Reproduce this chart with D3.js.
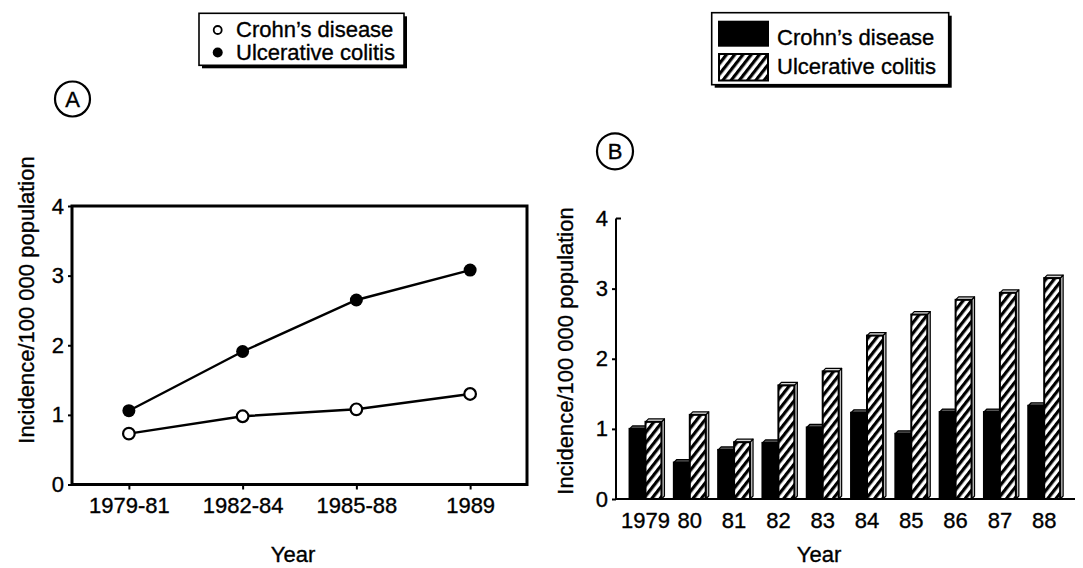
<!DOCTYPE html>
<html><head><meta charset="utf-8">
<script src="https://cdn.jsdelivr.net/npm/d3@7"></script>
<style>
body{margin:0;background:#fff}
svg{display:block}
text{font-family:"Liberation Sans",Arial,Helvetica,sans-serif;fill:#000;stroke:#000;stroke-width:0.35px}
</style>
</head><body>
<svg id="c" width="1083" height="568"></svg>
<script>
// ---- data ----
const periodsA = ["1979-81", "1982-84", "1985-88", "1989"];
const crohnA = [0.73, 0.98, 1.08, 1.30];
const ucA = [1.06, 1.91, 2.65, 3.08];
const yearsB = ["1979", "80", "81", "82", "83", "84", "85", "86", "87", "88"];
const crohnB = [1.0, 0.52, 0.7, 0.8, 1.02, 1.23, 0.93, 1.24, 1.24, 1.33];
const ucB = [1.1, 1.2, 0.81, 1.62, 1.82, 2.33, 2.63, 2.84, 2.94, 3.15];
const yTicks = [0, 1, 2, 3, 4];
const seriesNames = ["Crohn\u2019s disease", "Ulcerative colitis"];
const yTitle = "Incidence/100 000 population";
const xTitle = "Year";

const svg = d3.select("#c");
const FS = 22;

// hatch pattern
const defs = svg.append("defs");
const pat = defs.append("pattern").attr("id", "hatch")
  .attr("patternUnits", "userSpaceOnUse").attr("width", 6.5).attr("height", 10)
  .attr("patternTransform", "rotate(38)");
pat.append("rect").attr("width", 6.5).attr("height", 10).attr("fill", "#fff");
pat.append("rect").attr("x", 0).attr("width", 3.2).attr("height", 10).attr("fill", "#000");

// ================= Panel A =================
const xA = d3.scalePoint().domain(periodsA).range([72, 527]).padding(0.5);
const yA = d3.scaleLinear().domain([0, 4]).range([484.5, 206]);
const gA = svg.append("g");

const axA = gA.append("g").attr("transform", "translate(72,0)")
  .call(d3.axisLeft(yA).tickValues(yTicks).tickFormat(d3.format("d")).tickSize(4).tickPadding(4));
axA.select(".domain").remove();
axA.selectAll("line").attr("stroke", "#000").attr("stroke-width", 2);
axA.selectAll("text").attr("font-size", FS).attr("font-family", null);

const axAx = gA.append("g").attr("transform", "translate(0,484.5)")
  .call(d3.axisBottom(xA).tickSize(5).tickPadding(8));
axAx.select(".domain").remove();
axAx.selectAll("line").attr("stroke", "#000").attr("stroke-width", 2);
axAx.selectAll("text").attr("font-size", FS).attr("font-family", null);

gA.append("rect").attr("x", 72).attr("y", 206).attr("width", 455).attr("height", 278.5)
  .attr("fill", "none").attr("stroke", "#000").attr("stroke-width", 3);

const lineA = d3.line().x((d, i) => xA(periodsA[i])).y(d => yA(d));
gA.append("path").datum(ucA).attr("d", lineA).attr("fill", "none").attr("stroke", "#000").attr("stroke-width", 2.4);
gA.append("path").datum(crohnA).attr("d", lineA).attr("fill", "none").attr("stroke", "#000").attr("stroke-width", 2.4);
gA.selectAll("circle.uc").data(ucA).join("circle").attr("class", "uc")
  .attr("cx", (d, i) => xA(periodsA[i])).attr("cy", d => yA(d)).attr("r", 6.5).attr("fill", "#000");
gA.selectAll("circle.cd").data(crohnA).join("circle").attr("class", "cd")
  .attr("cx", (d, i) => xA(periodsA[i])).attr("cy", d => yA(d)).attr("r", 5.8)
  .attr("fill", "#fff").attr("stroke", "#000").attr("stroke-width", 2.2);

gA.append("text").attr("transform", "translate(34,300) rotate(-90)")
  .attr("text-anchor", "middle").attr("font-size", FS).text(yTitle);
gA.append("text").attr("x", 293).attr("y", 562).attr("text-anchor", "middle").attr("font-size", FS).text(xTitle);

gA.append("circle").attr("cx", 72.5).attr("cy", 99).attr("r", 17.5).attr("fill", "none").attr("stroke", "#000").attr("stroke-width", 2.2);
gA.append("text").attr("x", 72.5).attr("y", 107).attr("text-anchor", "middle").attr("font-size", FS).text("A");

// legend A
gA.append("rect").attr("x", 202).attr("y", 16.3).attr("width", 205).attr("height", 52).attr("fill", "#000");
gA.append("rect").attr("x", 199).attr("y", 13.3).attr("width", 205).attr("height", 52)
  .attr("fill", "#fff").attr("stroke", "#000").attr("stroke-width", 1.6);
gA.append("circle").attr("cx", 217.7).attr("cy", 30).attr("r", 4).attr("fill", "#fff").attr("stroke", "#000").attr("stroke-width", 1.8);
gA.append("circle").attr("cx", 217.7).attr("cy", 52.5).attr("r", 5).attr("fill", "#000");
gA.append("text").attr("x", 236).attr("y", 37).attr("font-size", FS).text(seriesNames[0]);
gA.append("text").attr("x", 236).attr("y", 59.5).attr("font-size", FS).text(seriesNames[1]);

// ================= Panel B =================
const xB = d3.scaleBand().domain(yearsB).range([623.35, 1066.35]).paddingInner(0.28).paddingOuter(0.14);
const yB = d3.scaleLinear().domain([0, 4]).range([499, 218.5]);
const gB = svg.append("g");
const bw = xB.bandwidth() / 2;
const dep = 3;

const axB = gB.append("g").attr("transform", "translate(616,0)")
  .call(d3.axisLeft(yB).tickValues(yTicks).tickFormat(d3.format("d")).tickSize(4).tickPadding(4));
axB.select(".domain").remove();
axB.selectAll("line").attr("stroke", "#000").attr("stroke-width", 2);
axB.selectAll("text").attr("font-size", FS).attr("font-family", null);
gB.append("line").attr("x1", 616).attr("x2", 621).attr("y1", yB(4)).attr("y2", yB(4)).attr("stroke", "#000").attr("stroke-width", 2);
axB.selectAll(".tick").filter(d => d === 4).select("line").remove();

const axBx = gB.append("g").attr("transform", "translate(0,499)")
  .call(d3.axisBottom(xB).tickSize(0).tickPadding(13));
axBx.select(".domain").remove();
axBx.selectAll("text").attr("font-size", FS).attr("font-family", null);

const series = [
  { vals: crohnB, fill: "#000", top: "#555", side: "#111", off: 0 },
  { vals: ucB, fill: "url(#hatch)", top: "#d8d8d8", side: "#bdbdbd", off: 1 }
];
yearsB.forEach((yr, i) => {
  series.forEach(s => {
    const x0 = xB(yr) + s.off * bw;
    const y0 = yB(s.vals[i]);
    const base = yB(0);
    const g = gB.append("g");
    g.append("polygon").attr("points", [[x0 + bw, y0], [x0 + bw + dep, y0 - dep], [x0 + bw + dep, base - dep], [x0 + bw, base]].join(" "))
      .attr("fill", s.side).attr("stroke", "#000").attr("stroke-width", 1.2).attr("stroke-linejoin", "round");
    g.append("polygon").attr("points", [[x0, y0], [x0 + dep, y0 - dep], [x0 + bw + dep, y0 - dep], [x0 + bw, y0]].join(" "))
      .attr("fill", s.top).attr("stroke", "#000").attr("stroke-width", 1.2).attr("stroke-linejoin", "round");
    g.append("rect").attr("x", x0).attr("y", y0).attr("width", bw).attr("height", base - y0)
      .attr("fill", s.fill).attr("stroke", "#000").attr("stroke-width", 2);
  });
});

gB.append("line").attr("x1", 616).attr("x2", 616).attr("y1", yB(4)).attr("y2", 499).attr("stroke", "#000").attr("stroke-width", 2);
gB.append("line").attr("x1", 615).attr("x2", 1075).attr("y1", 499).attr("y2", 499).attr("stroke", "#000").attr("stroke-width", 2);

gB.append("text").attr("transform", "translate(573,351) rotate(-90)")
  .attr("text-anchor", "middle").attr("font-size", FS).text(yTitle);
gB.append("text").attr("x", 819).attr("y", 562).attr("text-anchor", "middle").attr("font-size", FS).text(xTitle);

gB.append("circle").attr("cx", 615).attr("cy", 151.3).attr("r", 18).attr("fill", "none").attr("stroke", "#000").attr("stroke-width", 2.2);
gB.append("text").attr("x", 615).attr("y", 159.3).attr("text-anchor", "middle").attr("font-size", FS).text("B");

// legend B
gB.append("rect").attr("x", 714.7).attr("y", 15.7).attr("width", 237).attr("height", 72).attr("fill", "#000");
gB.append("rect").attr("x", 711.7).attr("y", 12.7).attr("width", 237).attr("height", 72)
  .attr("fill", "#fff").attr("stroke", "#000").attr("stroke-width", 1.6);
gB.append("rect").attr("x", 718).attr("y", 20.7).attr("width", 51).attr("height", 26).attr("fill", "#000");
gB.append("rect").attr("x", 719).attr("y", 54).attr("width", 49).attr("height", 26.5)
  .attr("fill", "url(#hatch)").attr("stroke", "#000").attr("stroke-width", 2);
gB.append("text").attr("x", 777).attr("y", 45).attr("font-size", FS).text(seriesNames[0]);
gB.append("text").attr("x", 777).attr("y", 74).attr("font-size", FS).text(seriesNames[1]);
</script>
</body></html>
